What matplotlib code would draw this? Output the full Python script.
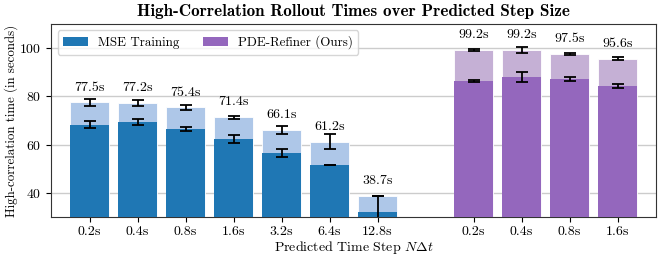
import numpy as np
import matplotlib
matplotlib.use("Agg")
import matplotlib.pyplot as plt

plt.rcParams["font.family"] = ["cmr10", "DejaVu Serif"]
plt.rcParams["mathtext.fontset"] = "cm"
plt.rcParams["axes.formatter.use_mathtext"] = True
plt.rcParams["axes.unicode_minus"] = False

# ── data ──────────────────────────────────────────────────────────────────────
mse_steps = ["0.2s", "0.4s", "0.8s", "1.6s", "3.2s", "6.4s", "12.8s"]
mse_total = [77.5, 77.2, 75.4, 71.4, 66.1, 61.2, 38.7]
mse_total_err = [1.4, 1.2, 1.0, 0.6, 1.6, 3.1, 0.0]
mse_base = [68.3, 69.3, 66.6, 62.3, 56.6, 51.6, 32.2]
mse_base_err = [1.3, 1.3, 0.8, 1.6, 1.6, 0.15, 6.4]

pde_steps = ["0.2s", "0.4s", "0.8s", "1.6s"]
pde_total = [99.2, 99.2, 97.5, 95.6]
pde_total_err = [0.4, 1.4, 0.4, 0.7]
pde_base = [86.4, 88.0, 87.2, 84.3]
pde_base_err = [0.5, 2.0, 1.0, 0.7]

mse_pos = np.arange(len(mse_steps))
pde_pos = np.arange(len(pde_steps)) + len(mse_steps) + 1

fig, ax = plt.subplots(figsize=(6.64, 2.6), dpi=100)
fig.subplots_adjust(left=0.077, right=0.988, top=0.908, bottom=0.165)

w = 0.8
err_kw = dict(fmt="none", ecolor="black", elinewidth=1.3, capsize=4.3, capthick=1.3, zorder=4)

ax.bar(mse_pos, mse_total, width=w, color="#aec7e8", edgecolor="white", linewidth=0.6, zorder=2)
ax.bar(mse_pos, mse_base, width=w, color="#1f77b4", zorder=3, label="MSE Training")
ax.bar(pde_pos, pde_total, width=w, color="#c5b0d5", edgecolor="white", linewidth=0.6, zorder=2)
ax.bar(pde_pos, pde_base, width=w, color="#9467bd", zorder=3, label="PDE-Refiner (Ours)")

ax.errorbar(mse_pos, mse_total, yerr=mse_total_err, **err_kw)
ax.errorbar(mse_pos, mse_base, yerr=mse_base_err, **err_kw)
ax.errorbar(pde_pos, pde_total, yerr=pde_total_err, **err_kw)
ax.errorbar(pde_pos, pde_base, yerr=pde_base_err, **err_kw)

# value labels sit a fixed distance above each stacked total
for p, t in zip(np.concatenate([mse_pos, pde_pos]), mse_total + pde_total):
    ax.text(p, t + 3.6, f"{t:.1f}s", ha="center", va="bottom", fontsize=10, zorder=5)

ax.set_xticks(np.concatenate([mse_pos, pde_pos]))
ax.set_xticklabels(mse_steps + pde_steps, fontsize=10)
ax.set_xlim(-0.8, 11.8)
ax.set_ylim(30, 110)
ax.set_yticks([40, 60, 80, 100])
ax.tick_params(axis="y", labelsize=10)
ax.tick_params(axis="x", pad=2.5)
ax.yaxis.grid(True, color="#cccccc", linewidth=1.0, zorder=0)
ax.set_axisbelow(True)
for s in ax.spines.values():
    s.set_color("#333333")

ax.set_xlabel(r"Predicted Time Step $N\Delta t$", fontsize=10, labelpad=1)
ax.set_ylabel("High-correlation time (in seconds)", fontsize=9.3, labelpad=1)
ax.set_title("High-Correlation Rollout Times over Predicted Step Size",
             fontfamily="cmb10", fontsize=12.3, pad=6)
ax.legend(loc="upper left", ncol=2, fontsize=9.4, frameon=True, framealpha=0.8,
          columnspacing=1.8, handlelength=1.9, borderaxespad=0.5)

plt.savefig("out.png", dpi=100)
